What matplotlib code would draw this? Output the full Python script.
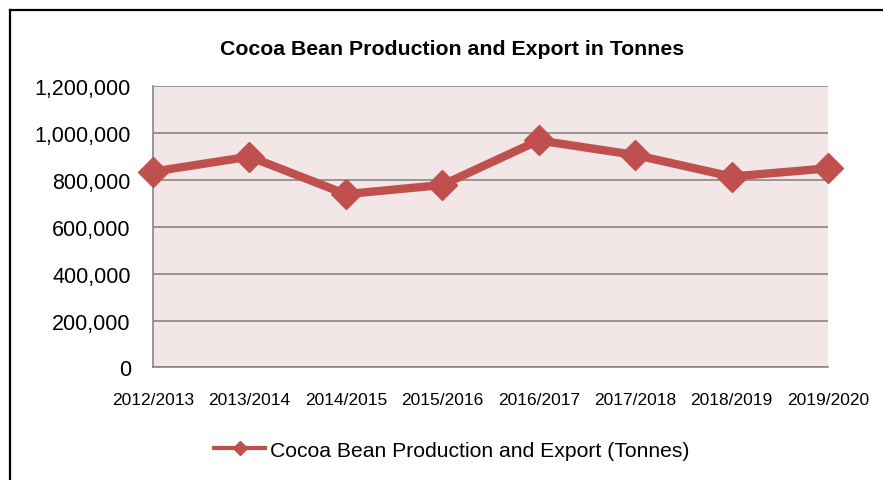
import matplotlib
matplotlib.use("Agg")
import matplotlib.pyplot as plt
from matplotlib.lines import Line2D
from matplotlib.ticker import FuncFormatter

# ----------------------------------------------------------------------
# Data
# ----------------------------------------------------------------------
seasons = ["2012/2013", "2013/2014", "2014/2015", "2015/2016",
           "2016/2017", "2017/2018", "2018/2019", "2019/2020"]
tonnes = [835000, 899000, 739000, 778000, 968000, 906000, 814000, 849000]
yticks = [0, 200000, 400000, 600000, 800000, 1000000, 1200000]

LINE_COLOR = "#C0504D"
PLOT_BG = "#F2E6E6"
GRID_COLOR = "#868686"

plt.rcParams["font.family"] = ["Liberation Sans", "DejaVu Sans"]

fig = plt.figure(figsize=(8.83, 4.81), dpi=100)
ax = fig.add_axes([0.1733, 0.2339, 0.7644, 0.5852])

x = list(range(len(seasons)))
ax.plot(x, tonnes, color=LINE_COLOR, linewidth=6, marker="D",
        markersize=15, solid_joinstyle="miter", clip_on=False, zorder=3,
        label="Cocoa Bean Production and Export (Tonnes)")

ax.set_facecolor(PLOT_BG)
ax.set_xlim(0, len(seasons) - 1)
ax.set_ylim(0, 1200000)
ax.set_yticks(yticks)
ax.yaxis.set_major_formatter(FuncFormatter(lambda v, p: f"{int(v):,}"))
ax.set_xticks(x)
ax.set_xticklabels(seasons, fontsize=12.5)
ax.tick_params(axis="y", labelsize=15.5, length=0, pad=16)
ax.tick_params(axis="x", length=0, pad=18)
ax.grid(axis="y", color=GRID_COLOR, linewidth=1.2)
ax.set_axisbelow(True)

for side in ["top", "right"]:
    ax.spines[side].set_visible(False)
for side in ["left", "bottom"]:
    ax.spines[side].set_color(GRID_COLOR)
    ax.spines[side].set_linewidth(1.2)

fig.text(0.5125, 0.898, "Cocoa Bean Production and Export in Tonnes",
         ha="center", va="center", fontsize=15.3, fontweight="bold")

leg = fig.legend(handles=[Line2D([0], [0], color=LINE_COLOR, linewidth=3,
                                 marker="D", markersize=7)],
                 labels=["Cocoa Bean Production and Export (Tonnes)"],
                 loc="center", bbox_to_anchor=(0.512, 0.062), frameon=False,
                 fontsize=15.2, handlelength=2.4, handletextpad=0.25)

# outer chart border (top and left edges only are visible)
fig.add_artist(Line2D([0.0113, 0.0113], [0.0, 0.977], color="black",
                      linewidth=1.6, transform=fig.transFigure))
fig.add_artist(Line2D([0.0113, 1.0], [0.977, 0.977], color="black",
                      linewidth=1.6, transform=fig.transFigure))

fig.savefig("out.png", dpi=100)
